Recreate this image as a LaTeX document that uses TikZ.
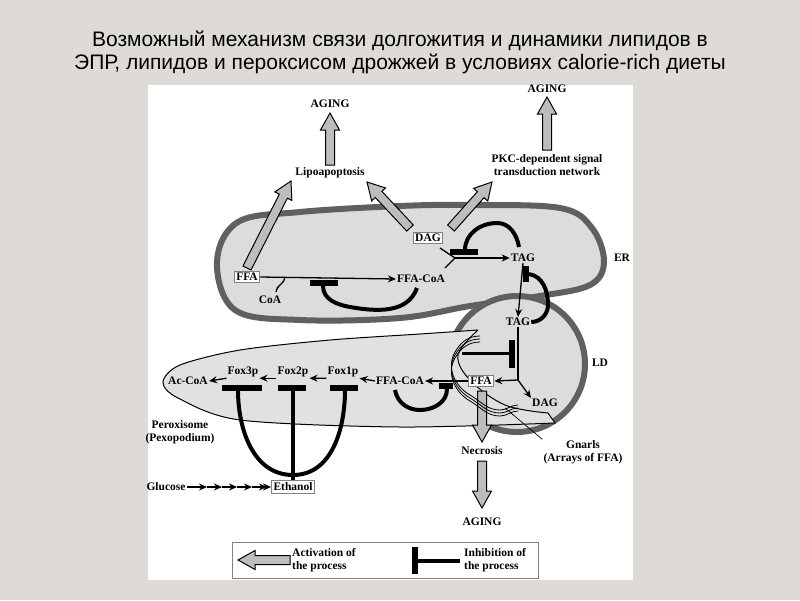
\documentclass[tikz,border=0pt]{standalone}
\usepackage{fontspec}
\setmainfont{Liberation Serif}
\newfontfamily\titlefont{Liberation Sans}
\usetikzlibrary{arrows.meta,calc}
\definecolor{bgc}{HTML}{DEDBD6}
\definecolor{memb}{HTML}{606060}
\definecolor{fillc}{HTML}{DCDCDC}
\definecolor{arrg}{HTML}{BDBDBD}
\tikzset{
 lbl/.style={font=\bfseries\fontsize{11.5}{12.5}\selectfont, inner sep=1pt, align=center},
 boxl/.style={lbl, draw=gray, fill=white, inner sep=2pt, line width=1pt},
 thin/.style={line width=1.3pt, -{Stealth[length=8pt,width=7pt]}},
 inh/.style={line width=4pt},
 bar/.style={line width=6.5pt},
 fat/.style={draw=black, fill=arrg, line width=1pt, line join=miter},
}
\newcommand{\fatarr}[2]{%
 \coordinate (fH) at ($(#2)!17pt!(#1)$);
 \draw[fat] ($(#1)!4.5pt!90:(#2)$) -- ($(fH)!4.5pt!90:(#2)$) -- ($(fH)!9.5pt!90:(#2)$) -- (#2)
  -- ($(fH)!9.5pt!-90:(#2)$) -- ($(fH)!4.5pt!-90:(#2)$) -- ($(#1)!4.5pt!-90:(#2)$) -- cycle;}
\begin{document}
\begin{tikzpicture}[x=1pt,y=-1pt]
\fill[bgc] (0,0) rectangle (800,600);
\useasboundingbox (0,0) rectangle (800,600);
\fill[white] (148,85) rectangle (633,580);
\node[font=\titlefont\fontsize{21}{23}\selectfont, align=center] (title) at (400,52)
 {Возможный механизм\ связи долгожития и динамики липидов в\\ЭПР, липидов и пероксисом дрожжей в условиях calorie-rich\ диеты};
% ER
\draw[memb, fill=fillc, line width=6pt, line join=round] plot[smooth cycle, tension=0.6] coordinates
 {(217,262) (238,222) (300,212) (400,206) (470,205) (560,208) (592,228) (604,262) (590,285) (540,296) (470,306) (400,318) (300,320) (235,310)};
% LD
\draw[memb, fill=fillc, line width=6pt] (517,364) circle (68);
% Peroxisome
\draw[black, fill=fillc!85!white, line width=1pt] plot[smooth, tension=0.5] coordinates
 {(478,330) (420,334) (330,340) (240,350) (180,365) (163,382) (178,398) (240,420) (400,427) (555,423)}
 -- (548,413) plot[smooth, tension=0.6] coordinates {(548,413) (505,405) (470,380) (458,355) (478,330)};
% text nodes
\node[lbl] (ag1) at (330,104) {AGING};
\node[lbl] (ag2) at (547,89) {AGING};
\node[lbl] (lipo) at (330,173) {Lipoapoptosis};
\node[lbl] (pkc) at (547,165) {PKC-dependent signal\\transduction network};
\node[boxl] (dag1) at (428,238) {DAG};
\node[boxl] (ffa1) at (247,277) {FFA};
\node[lbl] (ffacoa1) at (421,279) {FFA-CoA};
\node[lbl] (coa) at (270,300) {CoA};
\node[lbl] (tag1) at (523,258) {TAG};
\node[lbl] (tag2) at (518,322) {TAG};
\node[lbl] (er) at (622,258) {ER};
\node[lbl] (ld) at (600,363) {LD};
\node[boxl] (ffa2) at (481,381) {FFA};
\node[lbl] (ffacoa2) at (400,381) {FFA-CoA};
\node[lbl] (dag2) at (545,403) {DAG};
\node[lbl] (fox1) at (343,372) {Fox1p};
\node[lbl] (fox2) at (293,372) {Fox2p};
\node[lbl] (fox3) at (243,372) {Fox3p};
\node[lbl] (accoa) at (188,381) {Ac-CoA};
\node[lbl] (perox) at (180,432) {Peroxisome\\(Pexopodium)};
\node[lbl] (necr) at (482,451) {Necrosis};
\node[lbl] (ag3) at (482,522) {AGING};
\node[lbl] (gn) at (583,452) {Gnarls\\(Arrays of FFA)};
\node[boxl] (eth) at (293,487) {Ethanol};
\node[lbl] (glu) at (166,487) {Glucose};
% fat arrows
\coordinate (a1s) at (330,165); \coordinate (a1e) at (330,113); \fatarr{a1s}{a1e}
\coordinate (a2s) at (547,150); \coordinate (a2e) at (547,97); \fatarr{a2s}{a2e}
\coordinate (a3s) at (247,268); \coordinate (a3e) at (291,181); \fatarr{a3s}{a3e}
\coordinate (a4s) at (410,228); \coordinate (a4e) at (367,182); \fatarr{a4s}{a4e}
\coordinate (a5s) at (451,228); \coordinate (a5e) at (492,182); \fatarr{a5s}{a5e}
\coordinate (a6s) at (482,391); \coordinate (a6e) at (482,442); \fatarr{a6s}{a6e}
\coordinate (a7s) at (482,461); \coordinate (a7e) at (482,508); \fatarr{a7s}{a7e}
% ER reactions
\draw[thin] (ffa1.east) -- (ffacoa1.west);
\draw[line width=1.3pt] (285,277) to[out=-90,in=90] (276,292);
\draw[bar] (310,283) -- (338,283);
\draw[inh] (417,288) to[out=-110,in=-10] (350,307) to[out=170,in=-90] (323,286);
\coordinate (join) at (455,258);
\draw[line width=1.3pt] (440,248) -- (join) -- (445,268);
\draw[thin] (join) -- (tag1.west);
\draw[bar] (450,252) -- (478,252);
\draw[inh] (519,247) to[out=100,in=0] (497,223) to[out=180,in=90] (465,250);
\draw[thin] (tag1.south) -- (tag2.north);
\draw[bar] (526,266) -- (526,282);
\draw[inh] (tag2.east) to[out=0,in=-90] (548,305) to[out=90,in=-10] (529,274);
% LD reactions
\coordinate (br) at (518,380);
\draw[line width=1.3pt] (tag2.south) -- (br);
\draw[thin] (br) -- (ffa2.east);
\draw[thin] (br) -- (dag2.north west);
\draw[bar] (512,340) -- (512,368);
\draw[line width=3pt] (462,353) -- (512,353);
% gnarls
\foreach \d in {0,3,6}{
 \draw[line width=0.8pt] (480,336+\d) to[out=180,in=60] (455,352+\d) to[out=-120,in=150] (470,395+\d) to[out=-30,in=180] (500,410+\d) to[out=0,in=180] (518,405+\d);}
\draw[line width=0.7pt] (gn.north west) -- (505,408);
% peroxisome chain
\draw[thin] (ffa2.west) -- (ffacoa2.east);
\draw[bar] (439,386) -- (453,386);
\draw[inh] (395,390) to[out=-80,in=180] (420,410) to[out=0,in=-90] (447,389);
\draw[thin] (ffacoa2.west) -- (fox1.south east);
\draw[thin] (fox1.south west) -- (fox2.south east);
\draw[thin] (fox2.south west) -- (fox3.south east);
\draw[thin] (fox3.south west) -- (accoa.east);
\draw[bar] (222,388) -- (262,388);
\draw[bar] (278,388) -- (306,388);
\draw[bar] (330,388) -- (358,388);
\draw[inh] (238,390) to[out=-90,in=180] (293,475) to[out=0,in=-90] (345,390);
\draw[inh] (293,390) -- (eth.north);
% glucose chain
\draw[thin] (glu.east) -- (207,487);
\foreach \x in {207,222,237,252}{\draw[thin] (\x,487) -- (\x+15,487);}
\draw[thin] (267,487) -- (eth.west);
% legend
\draw[gray, line width=1pt] (232,542) rectangle (538,578);
\coordinate (l1s) at (290,560); \coordinate (l1e) at (238,560); \fatarr{l1s}{l1e}
\node[lbl, align=left, anchor=west] (lact) at (291,560) {Activation of\\the process};
\draw[bar] (415,547) -- (415,574);
\draw[inh] (415,561) -- (460,561);
\node[lbl, align=left, anchor=west] (linh) at (463,560) {Inhibition of\\the process};
\end{tikzpicture}
\end{document}
